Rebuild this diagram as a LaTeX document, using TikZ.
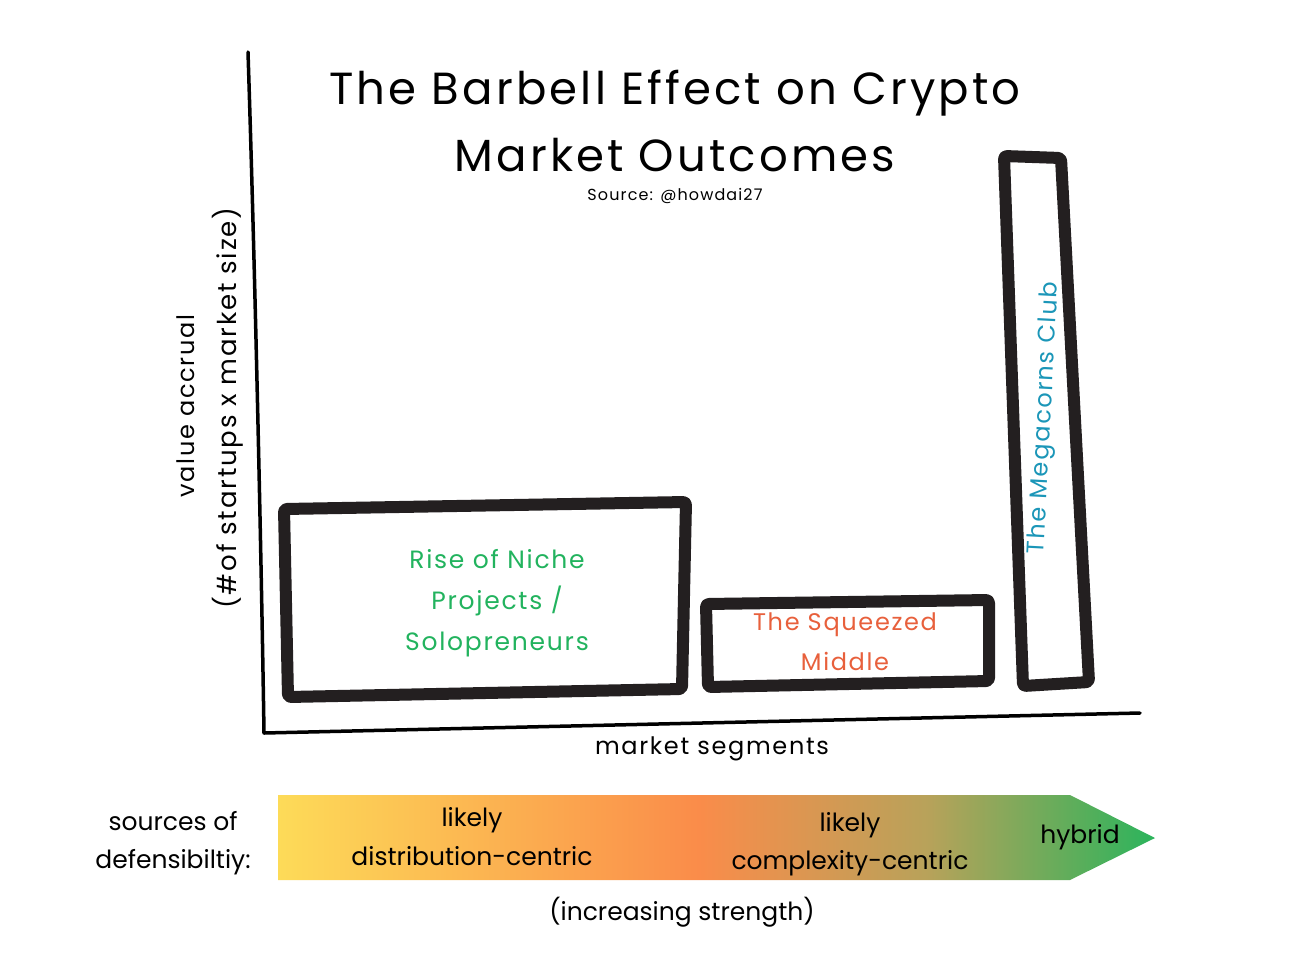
\documentclass[tikz,border=0pt]{standalone}
\usepackage{fontspec}
\setmainfont{Poppins}
\newfontfamily\handfont[LetterSpace=7]{Poppins}
\usetikzlibrary{shapes.geometric}
\definecolor{nichegreen}{HTML}{22B35E}
\definecolor{squeezeorange}{HTML}{E8603C}
\definecolor{megateal}{HTML}{1B96B8}
\definecolor{barborder}{HTML}{231F20}
\definecolor{gyel}{HTML}{FDDB58}
\definecolor{gorg}{HTML}{FA8C4A}
\definecolor{ggrn}{HTML}{2BB45C}
\definecolor{gmid}{HTML}{B8A25A}
\pgfdeclarehorizontalshading{barshade}{100bp}{color(0bp)=(gyel); color(25bp)=(gyel); color(49bp)=(gorg); color(62bp)=(gmid); color(75bp)=(ggrn); color(100bp)=(ggrn)}
\tikzset{
  handbox/.style={draw=barborder, line width=12pt, line join=round, line cap=round, rounded corners=3pt},
  axisline/.style={draw=black, line width=3.5pt, line cap=round, line join=round},
  lbl/.style={inner sep=0pt, align=center, text=black},
}
\begin{document}
\begin{tikzpicture}[x=1pt,y=-1pt]
\useasboundingbox[fill=white] (0,0) rectangle (1302,954);
% axes
\draw[axisline] (248,52) .. controls (256,300) and (262,600) .. (264,733) -- (1140,713);
% boxes
\draw[handbox] (284,509) -- (686,502) -- (682,689) -- (288,697) -- cycle;
\draw[handbox] (706,604) -- (989,600) -- (989,681) -- (708,687) -- cycle;
\draw[handbox] (1004,156) -- (1061,158) -- (1089,682) -- (1023,686) -- cycle;
% gradient arrow
\shade[shading=barshade] (278,795) -- (1070,795) -- (1155,838) -- (1070,880) -- (278,880) -- cycle;
% title
\node[lbl, font=\handfont\fontsize{45}{67}\selectfont] (title) at (675,121) {The Barbell Effect on Crypto\\Market Outcomes};
\node[lbl, font=\handfont\fontsize{16}{18}\selectfont] (source) at (675,196) {Source: @howdai27};
% axis labels
\node[lbl, rotate=90, font=\handfont\fontsize{24}{28}\selectfont] (yl1) at (186,406) {value accrual};
\node[lbl, rotate=90, font=\handfont\fontsize{26}{28}\selectfont] (yl2) at (228,408) {(\#of startups x market size)};
\node[lbl, font=\handfont\fontsize{24}{28}\selectfont] (xl) at (712,749) {market segments};
% box texts
\node[lbl, text=nichegreen, font=\handfont\fontsize{25}{41}\selectfont] (niche) at (497,603) {Rise of Niche\\Projects /\\Solopreneurs};
\node[lbl, text=squeezeorange, font=\handfont\fontsize{24}{40}\selectfont] (squeeze) at (845,642) {The Squeezed\\Middle};
\node[lbl, text=megateal, rotate=87, font=\handfont\fontsize{24}{28}\selectfont] (mega) at (1045,418) {The Megacorns Club};
% bottom texts
\node[lbl, font=\fontsize{25}{38}\selectfont] (sources) at (173,843) {sources of\\defensibiltiy:};
\node[lbl, font=\fontsize{25}{39}\selectfont] (dist) at (472,837) {likely\\distribution-centric};
\node[lbl, font=\fontsize{25}{38}\selectfont] (compl) at (850,844) {likely\\complexity-centric};
\node[lbl, font=\fontsize{25}{28}\selectfont] (hybrid) at (1080,837) {hybrid};
\node[lbl, font=\fontsize{25}{28}\selectfont] (incr) at (682,912) {(increasing strength)};
\end{tikzpicture}
\end{document}
